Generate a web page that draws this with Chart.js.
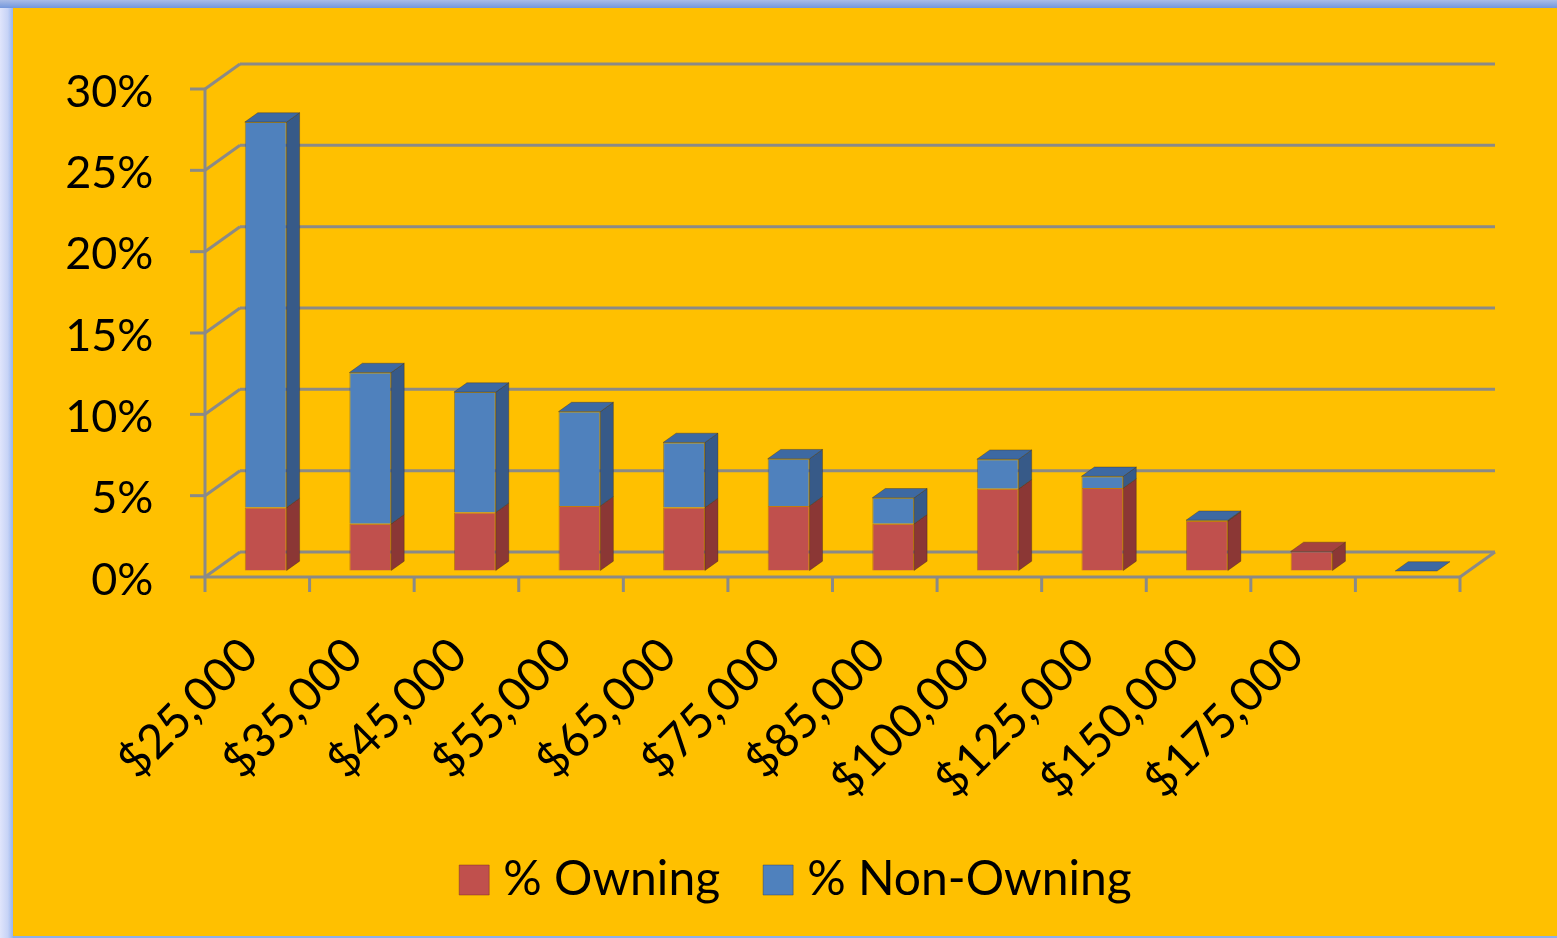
<!DOCTYPE html>
<html>
<head>
<meta charset="utf-8">
<title>Owning vs Non-Owning by Income</title>
<script src="https://cdn.jsdelivr.net/npm/chart.js@4.4.0/dist/chart.umd.min.js"></script>
<style>
    html, body { margin: 0; padding: 0; }
    body {
        width: 1557px;
        height: 938px;
        position: relative;
        overflow: hidden;
        background: linear-gradient(to bottom, #a9bce6 0px, #7397dc 8px, #8fb0ea 8px);
    }
    .left-strip {
        position: absolute;
        left: 0; top: 8px; bottom: 0;
        width: 13px;
        background: linear-gradient(to right, #e0e5fb, #c7d3f6 60%, #97b5ee);
    }
    .chart-frame {
        position: absolute;
        left: 13px; top: 8px;
        width: 1544px; height: 928px;
        background: #ffc000;
    }
</style>
</head>
<body>
<div class="left-strip"></div>
<div class="chart-frame">
    <canvas id="chart" width="1544" height="928"></canvas>
</div>
<script>
const incomeLabels = ['$25,000', '$35,000', '$45,000', '$55,000', '$65,000', '$75,000',
    '$85,000', '$100,000', '$125,000', '$150,000', '$175,000', ''];
const owningPct = [3.9, 2.9, 3.6, 4.0, 3.9, 4.0, 2.9, 5.05, 5.1, 3.07, 1.2, 0];
const nonOwningPct = [23.7, 9.3, 7.4, 5.8, 4.0, 2.9, 1.6, 1.82, 0.72, 0.05, 0, 0];
const yTicks = [0, 5, 10, 15, 20, 25, 30];

// fake 3d: offsets from the bar plane to the front edge / back wall of the floor
const FRONT = { x: -8.4, y: 6 };
const BACK = { x: 26.6, y: -19 };
const BAR_DEPTH = { x: 13, y: 9.3 };
const GRID_COLOR = '#8b8a86';

const frame3d = {
    id: 'frame3d',
    beforeDatasetsDraw(chart) {
        const { ctx, scales: { x, y } } = chart;
        const line = (x1, y1, x2, y2) => {
            ctx.beginPath();
            ctx.moveTo(x1, y1);
            ctx.lineTo(x2, y2);
            ctx.stroke();
        };
        ctx.save();
        ctx.strokeStyle = GRID_COLOR;
        ctx.lineWidth = 3;

        yTicks.forEach((v) => {
            const py = y.getPixelForValue(v);
            line(x.left + BACK.x, py + BACK.y, x.right + BACK.x, py + BACK.y);
            line(x.left + FRONT.x, py + FRONT.y, x.left + BACK.x, py + BACK.y);
            line(x.left + FRONT.x - 15, py + FRONT.y, x.left + FRONT.x, py + FRONT.y);
        });

        const y0 = y.getPixelForValue(0);
        const yTop = y.getPixelForValue(yTicks[yTicks.length - 1]);
        // front vertical axis
        line(x.left + FRONT.x, yTop + FRONT.y, x.left + FRONT.x, y0 + FRONT.y);
        // floor front and right edges
        line(x.left + FRONT.x, y0 + FRONT.y, x.right + FRONT.x, y0 + FRONT.y);
        line(x.right + FRONT.x, y0 + FRONT.y, x.right + BACK.x, y0 + BACK.y);

        // category tick marks on the front edge
        const step = (x.right - x.left) / incomeLabels.length;
        for (let i = 0; i <= incomeLabels.length; i++) {
            const px = x.left + i * step + FRONT.x;
            line(px, y0 + FRONT.y, px, y0 + FRONT.y + 15);
        }
        ctx.restore();
    },
    afterDatasetsDraw(chart) {
        const { ctx } = chart;
        const metas = chart.getSortedVisibleDatasetMetas();
        const poly = (pts, fill) => {
            ctx.beginPath();
            ctx.moveTo(pts[0][0], pts[0][1]);
            pts.slice(1).forEach((p) => ctx.lineTo(p[0], p[1]));
            ctx.closePath();
            ctx.fillStyle = fill;
            ctx.fill();
            ctx.stroke();
        };
        ctx.save();
        ctx.lineWidth = 1;
        ctx.strokeStyle = 'rgba(60, 40, 20, 0.35)';
        const dx = BAR_DEPTH.x;
        const dy = BAR_DEPTH.y;

        for (let i = 0; i < incomeLabels.length; i++) {
            // only the highest non-empty segment gets a visible lid
            let topIdx = -1;
            metas.forEach((meta, k) => {
                if (chart.data.datasets[meta.index].data[i] > 0) topIdx = k;
            });
            if (topIdx === -1) topIdx = metas.length - 1;

            metas.forEach((meta, k) => {
                const ds = chart.data.datasets[meta.index];
                const bar = meta.data[i];
                const { x: cx, y: top, base, width } = bar.getProps(['x', 'y', 'base', 'width'], true);
                const l = cx - width / 2;
                const r = cx + width / 2;
                if (ds.data[i] > 0) {
                    poly([[r, top], [r + dx, top - dy], [r + dx, base - dy], [r, base]], ds.sideColor);
                }
                if (k === topIdx) {
                    poly([[l, top], [l + dx, top - dy], [r + dx, top - dy], [r, top]], ds.topColor);
                }
            });
        }
        ctx.restore();
    },
};

const chart = new Chart(document.getElementById('chart'), {
    type: 'bar',
    data: {
        labels: incomeLabels,
        datasets: [
            {
                label: '% Owning',
                data: owningPct,
                backgroundColor: '#c0504d',
                borderColor: 'rgba(120, 40, 30, 0.45)',
                borderWidth: 1,
                sideColor: '#8b3735',
                topColor: '#a5423f',
                barPercentage: 0.4,
                categoryPercentage: 1,
            },
            {
                label: '% Non-Owning',
                data: nonOwningPct,
                backgroundColor: '#4f81bd',
                borderColor: 'rgba(40, 60, 100, 0.45)',
                borderWidth: 1,
                sideColor: '#375a88',
                topColor: '#3d69a2',
                barPercentage: 0.4,
                categoryPercentage: 1,
            },
        ],
    },
    options: {
        responsive: false,
        animation: false,
        layout: {
            padding: { left: 31, right: 0, top: 75, bottom: 22 },
        },
        plugins: {
            tooltip: { enabled: false },
            legend: {
                position: 'bottom',
                labels: {
                    // narrow box width keeps the text close to the 30px square
                    usePointStyle: true,
                    pointStyle: 'rect',
                    boxWidth: 10,
                    boxHeight: 30,
                    padding: 53,
                    color: '#000',
                    font: { family: 'Lato', size: 48 },
                },
            },
        },
        scales: {
            x: {
                stacked: true,
                grid: { display: false, drawTicks: false },
                border: { display: false },
                ticks: {
                    autoSkip: false,
                    minRotation: 45,
                    maxRotation: 45,
                    padding: 56,
                    labelOffset: -16,
                    color: '#000',
                    font: { family: 'Lato', size: 47 },
                },
                afterFit(scale) { scale.height = 232; },
            },
            y: {
                stacked: true,
                min: 0,
                max: 30,
                grid: { display: true, drawOnChartArea: false, color: 'rgba(0,0,0,0)', drawTicks: true, tickLength: 12 },
                border: { display: false },
                ticks: {
                    stepSize: 5,
                    padding: 48,
                    labelOffset: 9,
                    color: '#000',
                    font: { family: 'Lato', size: 45 },
                    callback: (v) => v + '%',
                },
                afterFit(scale) { scale.width = 169.4; },
            },
            // empty right-hand axis, only reserves room so the legend centres like the original
            yRight: {
                position: 'right',
                grid: { display: false, drawTicks: false },
                border: { display: false },
                ticks: { display: false },
                afterFit(scale) { scale.width = 88.6; },
            },
        },
    },
    plugins: [frame3d],
});
</script>
</body>
</html>
